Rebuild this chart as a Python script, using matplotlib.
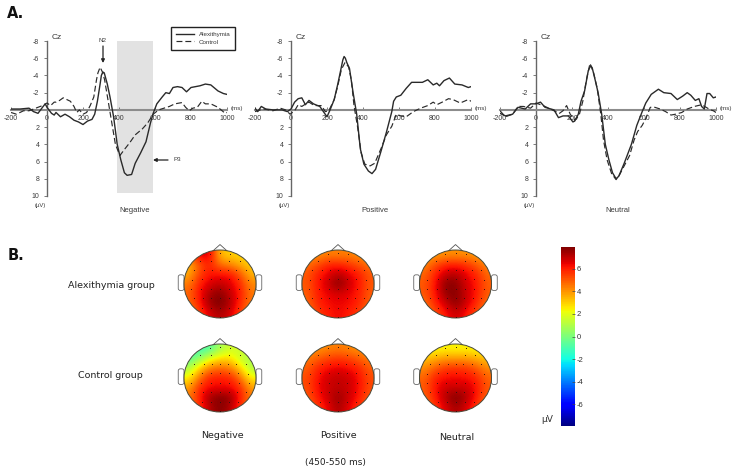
import numpy as np
import matplotlib
matplotlib.use("Agg")
import matplotlib.pyplot as plt
from matplotlib.patches import Ellipse, FancyBboxPatch, FancyArrowPatch
from matplotlib.cm import ScalarMappable
from matplotlib.colors import Normalize

W, H = 733, 471
plt.rcParams['font.family'] = ['Liberation Sans', 'DejaVu Sans']

# ---------- ERP data (ms, microvolts) ----------
neg_alex_t = [-200,-150,-100,-75,-50,-25,-10,0,25,40,50,75,100,125,150,175,200,225,250,265,280,295,302,310,318,335,350,370,390,410,430,445,470,490,520,550,575,590,610,640,660,680,700,725,750,775,800,850,880,910,950,980,1000]
neg_alex_v = [-0.1,-0.1,-0.2,0.2,0.4,-0.3,-0.7,-0.3,0.4,0.6,0.3,0.8,0.5,0.8,1.2,1.4,1.7,1.3,1.1,0.5,-1,-3,-4.0,-4.4,-4.3,-3.0,-1.5,0.8,4,5.8,7.3,7.6,7.5,6.2,5,3.7,1.5,0.4,-0.7,-1.5,-2,-1.9,-2.6,-2.7,-2.6,-2.1,-2.6,-2.8,-3.0,-2.9,-2.2,-1.9,-1.8]
neg_ctrl_t = [-200,-170,-130,-100,-75,-25,0,20,40,50,70,90,110,130,150,165,180,200,220,240,260,275,283,295,308,320,340,360,380,405,430,460,490,530,560,590,620,650,680,710,750,770,790,810,835,860,880,910,950,990,1000]
neg_ctrl_v = [0.3,0.5,0.1,0.1,-0.1,-0.5,-0.8,-0.5,-0.9,-0.9,-1.1,-1.4,-1.2,-1.0,-0.4,0.3,0,0.5,0.3,-0.5,-1.5,-3.5,-4.3,-4.95,-4.4,-3.5,-1,1.5,4,5.3,4.6,3.8,2.9,2.2,1.5,0.5,0,-0.2,-0.4,-0.7,-0.85,-0.3,0.1,-0.2,-0.3,-1,-0.7,-0.7,-0.3,0.4,0.3]

pos_alex_t = [-200,-185,-165,-140,-100,-50,-20,0,20,40,60,80,100,125,160,180,200,215,240,260,280,288,295,302,310,325,345,365,385,405,430,450,470,500,530,560,570,585,610,640,670,700,730,760,790,810,825,850,880,910,950,985,1000]
pos_alex_v = [-0.2,0.2,-0.4,-0.1,0,0,0.2,-0.1,-0.9,-1.3,-1.4,-0.6,-1.1,-0.7,-0.4,0.2,0.8,0.1,-1.2,-3,-5,-5.8,-6.2,-6.0,-5.5,-4.8,-2,0.5,4.5,6.3,7.1,7.4,6.9,4.8,2.6,0.2,-1,-1.5,-1.7,-2.5,-3.2,-3.2,-3.2,-3.5,-2.9,-3.1,-2.8,-3.4,-3.7,-3,-2.9,-2.6,-2.7]
pos_ctrl_t = [-200,-170,-150,-100,-60,-30,-5,20,40,60,75,100,130,170,190,210,240,260,280,300,320,335,350,370,390,410,440,465,500,530,560,585,610,640,680,720,760,790,810,840,875,900,940,985,1000]
pos_ctrl_v = [0.2,0,-0.1,0.1,-0.2,0,0.5,0.1,-0.6,-0.4,-0.6,-0.9,-0.5,-0.5,0.2,0.1,-1.2,-2.8,-4.7,-5.5,-5,-3.5,-0.5,2,5,6.3,6.5,6.2,4.5,2.9,1.9,0.5,0.7,0.8,0.2,-0.2,-0.5,-0.9,-0.6,-0.9,-1.3,-1.2,-0.8,-1.2,-1]

neu_alex_t = [-200,-170,-130,-100,-60,-30,0,25,50,100,125,150,180,205,215,235,250,270,290,298,305,312,325,345,365,385,405,425,445,460,490,530,560,590,610,640,680,710,750,785,815,840,860,885,905,920,935,950,965,985,1000]
neu_alex_v = [0.4,0.7,0.5,-0.3,-0.1,-0.7,-0.7,-0.9,-0.3,0,0.9,0.7,0.7,1.4,1.3,0.5,-1,-2.2,-4.5,-4.9,-5.1,-4.9,-3.8,-2,0.5,4,5.8,7.3,8,7.7,6.2,4,1.8,0.2,-0.8,-1.8,-2.4,-2.0,-1.9,-1.2,-1.6,-2,-1.7,-1.1,-1.3,-0.4,-0.1,-1.9,-1.9,-1.4,-1.5]
neu_ctrl_t = [-200,-170,-130,-100,-70,-30,0,25,50,90,130,150,170,190,215,240,260,280,300,320,340,360,375,395,420,445,465,490,520,545,565,590,610,635,660,690,720,750,775,810,840,880,920,945,970,985,1000]
neu_ctrl_v = [0.1,0.8,0.5,-0.4,-0.4,-0.2,-0.8,-0.6,-0.4,0,0.4,0.1,-0.5,0.5,1.2,0.6,-1,-3.5,-5.4,-4.3,-2.5,0.5,3.5,5.8,7.4,8.1,7.5,6.5,5.3,3.5,2.5,1.8,1,-0.3,-0.3,-0.1,0.2,0.6,0.5,0.3,-0.1,-0.4,-0.6,-0.3,0,0.1,0.3]

erp_titles = ['Negative', 'Positive', 'Neutral']
x_ticks = [-200, 0, 200, 400, 600, 800, 1000]
y_ticks = [-8, -6, -4, -2, 0, 2, 4, 6, 8, 10]

# ---------- Topographic map values (rows top to bottom, microvolts) ----------
topo_alex_neg = [[5.5,6.6,6.8,3.2,3.0,2.8,2.6],[3.2,5.0,6.0,4.6,4.2,3.6,3.0],[3.6,5.4,6.2,6.2,6.2,5.0,3.4],[4.4,6.0,6.6,7.0,6.6,5.8,4.2],[4.8,6.2,7.3,7.8,6.9,6.0,4.4],[4.6,6.0,7.5,8.0,7.2,5.8,4.4],[4.2,5.4,6.6,7.3,6.6,5.4,4.2]]
topo_alex_pos = [[4.0,4.0,4.3,4.3,4.3,4.0,4.0],[4.6,5.2,5.9,5.9,5.6,5.1,4.5],[5.0,6.0,6.5,7.2,6.5,6.0,5.0],[5.0,6.1,6.8,7.9,6.8,6.1,5.0],[4.9,6.0,6.4,6.7,6.4,6.0,4.9],[4.7,5.9,6.3,6.4,6.3,5.9,4.7],[4.4,5.4,6.0,6.4,6.0,5.4,4.4]]
topo_alex_neu = [[3.8,3.8,4.0,4.0,4.0,3.8,3.8],[4.3,5.2,5.9,6.0,5.7,5.0,4.2],[4.8,6.0,6.9,7.2,6.4,5.9,4.7],[5.0,6.2,7.8,7.7,6.7,6.1,4.9],[5.0,6.2,7.6,7.8,6.8,6.1,4.9],[4.6,5.9,6.8,7.8,6.8,5.8,4.6],[4.2,5.2,6.1,6.9,6.1,5.2,4.2]]
topo_ctrl_neg = [[-1.2,-1.2,-0.8,0.8,1.6,1.6,1.6],[-0.6,0.4,2.0,2.8,2.8,1.4,0.8],[0.9,3.0,4.4,4.8,4.4,3.0,0.9],[2.4,4.6,6.0,6.0,6.0,4.6,2.4],[3.8,5.8,6.3,6.3,6.3,5.8,3.8],[4.4,6.0,7.4,7.9,7.6,6.0,4.4],[4.2,5.6,7.2,7.8,7.2,5.6,4.2]]
topo_ctrl_pos = [[4.0,4.0,4.2,4.4,4.2,4.0,4.0],[4.4,4.9,5.4,5.6,5.4,4.9,4.4],[4.9,5.9,6.3,6.5,6.3,5.9,4.9],[5.2,6.2,6.8,7.0,6.8,6.2,5.2],[5.2,6.3,6.8,7.0,6.8,6.2,5.2],[4.9,6.1,6.8,7.6,6.8,6.1,4.9],[4.5,5.6,6.4,7.4,6.4,5.6,4.5]]
topo_ctrl_neu = [[2.2,2.2,2.4,2.3,2.4,2.2,2.2],[3.2,3.6,3.9,3.9,3.9,3.6,3.2],[4.2,5.0,5.6,5.7,5.6,5.0,4.2],[4.8,6.0,6.3,6.3,6.3,5.9,4.8],[5.0,6.2,6.8,6.8,6.8,6.2,5.0],[4.8,6.1,7.2,8.0,7.2,6.1,4.8],[4.4,5.6,6.6,7.4,6.6,5.6,4.4]]

electrode_x = [-.28,0,.28,-.55,-.25,.25,.55,-.72,-.45,-.22,0,.22,.45,.72,-.78,-.5,-.25,0,.25,.5,.78,-.8,-.52,-.26,0,.26,.52,.8,-.72,-.48,-.24,0,.24,.48,.72,-.5,-.25,0,.25,.5,0]
electrode_y = [.88,.9,.88,.68,.68,.68,.68,.42,.42,.42,.42,.42,.42,.42,.12,.14,.14,.14,.14,.14,.12,-.14,-.14,-.14,-.14,-.14,-.14,-.14,-.42,-.42,-.42,-.42,-.42,-.42,-.42,-.7,-.7,-.7,-.7,-.7,-.97]

cbar_ticks = [6, 4, 2, 0, -2, -4, -6]
cbar_min, cbar_max = -7.9, 7.9

fig = plt.figure(figsize=(W/100, H/100), dpi=100)

def axpx(x0, y0, x1, y1, **kw):
    return fig.add_axes([x0/W, 1-y1/H, (x1-x0)/W, (y1-y0)/H], **kw)

def ftext(x, y, s, **kw):
    kw.setdefault('ha', 'center'); kw.setdefault('va', 'center')
    fig.text(x/W, 1-y/H, s, **kw)

ink = '#3a3a3a'
lefts = [11, 255, 500]
erp = [(neg_alex_t, neg_alex_v, neg_ctrl_t, neg_ctrl_v),
       (pos_alex_t, pos_alex_v, pos_ctrl_t, pos_ctrl_v),
       (neu_alex_t, neu_alex_v, neu_ctrl_t, neu_ctrl_v)]
handles = None
for i, left in enumerate(lefts):
    ax = axpx(left, 41, left+216, 196)
    ax.patch.set_alpha(0)
    ax.set_xlim(-200, 1000); ax.set_ylim(10, -8)
    if i == 0:
        ax.fill_betweenx([-8, 9.7], 389, 589, color='#e2e2e2', lw=0, zorder=0)
    a, = ax.plot(erp[i][0], erp[i][1], color='#2a2a2a', lw=1.0, label='Alexithymia', zorder=3, solid_joinstyle='round')
    c, = ax.plot(erp[i][2], erp[i][3], color='#2a2a2a', lw=0.85, ls=(0, (5, 2.5)), label='Control', zorder=3)
    if i == 0:
        handles = [a, c]
    for s in ['top', 'right']:
        ax.spines[s].set_visible(False)
    ax.spines['left'].set_position(('data', 0)); ax.spines['left'].set_color('#666666'); ax.spines['left'].set_linewidth(1.0)
    ax.spines['bottom'].set_position(('data', 0)); ax.spines['bottom'].set_color('#8c8c8c'); ax.spines['bottom'].set_linewidth(1.5)
    ax.set_xticks(x_ticks); ax.set_xticklabels([str(v) for v in x_ticks], fontsize=5, color=ink)
    ax.tick_params(axis='x', direction='in', length=2, width=0.6, color='#666666', pad=3.5, top=False, bottom=True)
    ax.set_yticks(y_ticks); ax.set_yticklabels([str(v) if v != 0 else '' for v in y_ticks], fontsize=5, color=ink)
    ax.tick_params(axis='y', length=2.5, width=0.6, color='#666666', pad=3)
    ftext(left+226, 108.5, '(ms)', fontsize=4.5, color=ink)
    ftext(left+29, 205, '(µV)', fontsize=4.2, color=ink)
    ftext(left+46, 37.5, 'Cz', fontsize=6, color=ink)
    ftext([135, 375, 618][i], 211, erp_titles[i], fontsize=5.5, color=ink)

fig.legend(handles=handles, loc='upper left', bbox_to_anchor=(171/W, 1-27/H), fontsize=4.5,
           frameon=True, fancybox=False, edgecolor='#222222', framealpha=1, borderaxespad=0,
           borderpad=0.8, labelspacing=0.3, handlelength=2.9, handletextpad=0.7, labelcolor=ink)

ftext(102.5, 41, 'N2', fontsize=4.5, color=ink)
ftext(177, 160, 'P3', fontsize=4.5, color=ink)
fa = dict(arrowstyle='-|>', color='#222222', lw=0.9, mutation_scale=5, shrinkA=0, shrinkB=0)
fig.add_artist(FancyArrowPatch((103/W, 1-46/H), (103/W, 1-63/H), transform=fig.transFigure, **fa))
fig.add_artist(FancyArrowPatch((168/W, 1-160/H), (153/W, 1-160/H), transform=fig.transFigure, **fa))

ftext(7, 14, 'A.', fontsize=10.5, fontweight='bold', ha='left', family='DejaVu Sans', color='#111111')
ftext(8, 256, 'B.', fontsize=10.5, fontweight='bold', ha='left', family='DejaVu Sans', color='#111111')

# ---------- head maps ----------
centers_x = [220, 338, 455.5]
centers_y = [284, 378]
rx, ry = 36, 34
topos = [[topo_alex_neg, topo_alex_pos, topo_alex_neu], [topo_ctrl_neg, topo_ctrl_pos, topo_ctrl_neu]]
for r, cy in enumerate(centers_y):
    for c, cx in enumerate(centers_x):
        m = 1.35
        ax = axpx(cx-rx*m, cy-ry*m, cx+rx*m, cy+ry*m)
        ax.set_xlim(-m, m); ax.set_ylim(-m, m); ax.axis('off')
        im = ax.imshow(np.array(topos[r][c]), extent=(-1, 1, -1, 1), cmap='jet', vmin=cbar_min, vmax=cbar_max,
                       interpolation='bicubic', aspect='auto', zorder=1)
        clip = Ellipse((0, 0), 2, 2, transform=ax.transData)
        im.set_clip_path(clip)
        ax.add_patch(Ellipse((0, 0), 2, 2, fc='none', ec='#4a4a3a', lw=0.7, zorder=3))
        ax.plot([-0.2, 0, 0.2], [0.97, 1.16, 0.97], color='#555555', lw=0.6, zorder=0)
        for sgn in (-1, 1):
            ax.add_patch(FancyBboxPatch((sgn*1.08-0.06, -0.17), 0.12, 0.42,
                         boxstyle='round,pad=0.02,rounding_size=0.06', fc='white', ec='#666666', lw=0.6, zorder=0))
        ax.scatter(electrode_x, electrode_y, s=0.5, c='#331111', lw=0, zorder=4)

ftext(111, 285, 'Alexithymia group', fontsize=6.8, family='DejaVu Sans', color='#222222')
ftext(110, 376, 'Control group', fontsize=6.8, family='DejaVu Sans', color='#222222')
for x, y, s in [(222, 435, 'Negative'), (338, 436, 'Positive'), (457, 437, 'Neutral')]:
    ftext(x, y, s, fontsize=6.8, family='DejaVu Sans', color='#222222')
ftext(335, 462, '(450-550 ms)', fontsize=6.5, family='DejaVu Sans', color='#222222')

# ---------- colour bar ----------
cax = axpx(561, 247, 575, 426)
sm = ScalarMappable(norm=Normalize(cbar_min, cbar_max), cmap='jet')
cb = fig.colorbar(sm, cax=cax)
cb.outline.set_visible(False)
cb.set_ticks(cbar_ticks)
cb.set_ticklabels([str(v) for v in cbar_ticks])
cb.ax.tick_params(labelsize=5.5, length=2, width=0.5, color='#444444', labelcolor='#333333', pad=1, direction='in')
ftext(547, 420, 'µV', fontsize=6.5, family='DejaVu Sans', color='#333333')

fig.savefig('out.png', dpi=100)
